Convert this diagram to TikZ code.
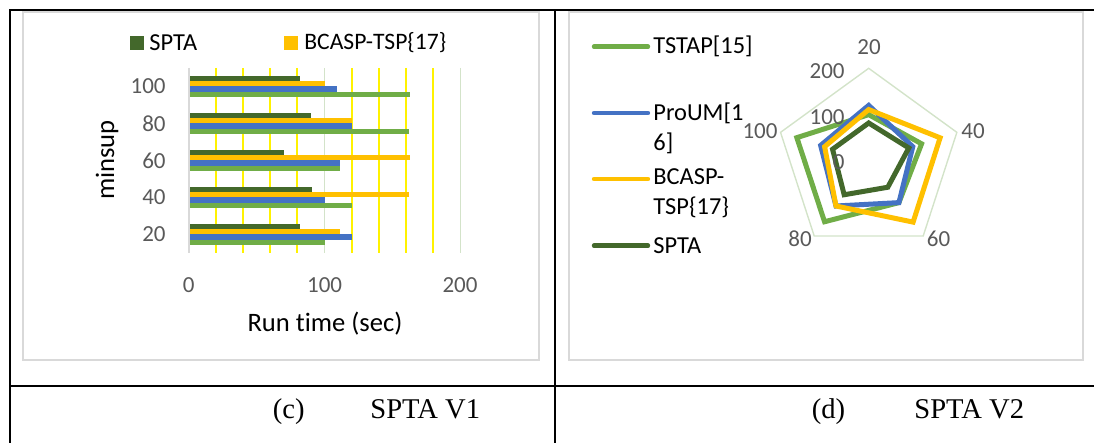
\documentclass[tikz,border=0pt]{standalone}
\usepackage{fontspec}
\setmainfont{Liberation Serif}
\newfontfamily\chartfont[Ligatures=NoCommon]{Carlito}
\definecolor{txtgray}{HTML}{595959}
\definecolor{framegray}{HTML}{D9D9D9}
\definecolor{gridgreen}{HTML}{D3E3C9}
\definecolor{cspta}{HTML}{43682B}
\definecolor{cbcasp}{HTML}{FFC000}
\definecolor{cproum}{HTML}{4472C4}
\definecolor{ctstap}{HTML}{70AD47}
\begin{document}
\begin{tikzpicture}[
  x=0.5pt, y=-0.5pt,
  font=\chartfont\fontsize{11.5}{15}\selectfont\color{txtgray},
  titulo/.style={font=\chartfont\fontsize{13.3}{15}\selectfont},
  leyenda/.style={font=\chartfont\fontsize{12.2}{15}\selectfont, anchor=west, inner sep=0pt},
  tabla/.style={line width=1pt, black},
  marco/.style={draw=framegray, line width=0.9pt},
  rejilla/.style={yellow, line width=1pt},
  rejgris/.style={gridgreen, line width=0.8pt},
  leyline/.style={line width=2.2pt, line cap=round},
  radar/.style={line width=2.5pt, line join=miter},
  caption/.style={font=\fontsize{14.3}{16}\selectfont, anchor=base west, inner sep=0pt}
]
\useasboundingbox (0,0) rectangle (1094,443);

% --- Tabla ---
\draw[tabla] (1094,10) -- (10,10) -- (10,443);
\draw[tabla] (555,10) -- (555,443);
\draw[tabla] (10,386) -- (1094,386);
\node[caption] (capc) at (272.5,418.5) {(c)};
\node[caption] (capcv) at (370,418.5) {SPTA V1};
\node[caption] (capd) at (811.5,418.5) {(d)};
\node[caption] (capdv) at (914,418.5) {SPTA V2};

% --- Grafico (c): barras ---
\draw[marco] (23,12) rectangle (539,360);
\fill[cspta] (130,36) rectangle (144,50);
\node[leyenda] (leyspta) at (149,43) {SPTA};
\fill[cbcasp] (284,36) rectangle (298,50);
\node[leyenda, font=\chartfont\fontsize{11.8}{15}\selectfont] (leybcasp) at (304,43) {BCASP-TSP\{17\}};

\foreach \g in {1,2,3,4,6,7,8,9}
  \draw[rejilla] (188.6+27.2*\g,68) -- (188.6+27.2*\g,253);
\foreach \g in {5,10}
  \draw[rejgris] (188.6+27.2*\g,68) -- (188.6+27.2*\g,253);

\foreach \cat/\k/\a/\b/\c/\d in {100/0/82/100/109/163, 80/1/90/120/120/162,
    60/2/70/163/111/111, 40/3/91/162/100/120, 20/4/82/111/120/100}{
  \pgfmathsetmacro{\yc}{86.5+37*\k}
  \fill[cspta]  (188.6,\yc-10.2) rectangle (188.6+1.36*\a,\yc-5.1);
  \fill[cbcasp] (188.6,\yc-5.1)  rectangle (188.6+1.36*\b,\yc);
  \fill[cproum] (188.6,\yc)      rectangle (188.6+1.36*\c,\yc+5.1);
  \fill[ctstap] (188.6,\yc+5.1)  rectangle (188.6+1.36*\d,\yc+10.2);
  \node[anchor=east, inner sep=0pt] (cat\cat) at (166,\yc) {\cat};
}
\draw[framegray, line width=1pt] (188.6,68) -- (188.6,253);

\node (ejex0) at (188.6,285) {0};
\node (ejex100) at (324.6,285) {100};
\node (ejex200) at (460,285) {200};
\node[titulo] (ejextit) at (325,324) {Run time (sec)};
\node[titulo, rotate=90] (ejeytit) at (107,160) {minsup};

% --- Grafico (d): radar ---
\draw[marco] (569,12) rectangle (1083,360);
\foreach \nom/\col/\yy in {TSTAP[15]/ctstap/46.7, SPTA/cspta/245.7}{
  \draw[leyline, \col] (594,\yy) -- (648,\yy);
  \node[leyenda] (ley\col) at (653,\yy) {\nom};
}
\draw[leyline, cproum] (594,113) -- (648,113);
\node[leyenda, align=left] (leyproum) at (653,128) {ProUM[1\\6]};
\draw[leyline, cbcasp] (594,179) -- (648,179);
\node[leyenda, align=left] (leybcasp2) at (653,193.5) {BCASP-\\TSP\{17\}};

\begin{scope}[shift={(868.7,161)}, yscale=-1]
  \draw[gridgreen, line width=0.7pt]
    (90:92.7) -- (18:92.7) -- (-54:92.7) -- (-126:92.7) -- (-198:92.7) -- cycle;
  % valores: 20, 40, 60, 80, 100
  \foreach \col/\a/\b/\c/\d/\e in {ctstap/100/120/111/162/163,
      cproum/120/100/111/120/109, cbcasp/111/162/163/120/100, cspta/82/91/70/90/82}
    \draw[radar, \col] (90:0.4635*\a) -- (18:0.4635*\b) -- (-54:0.4635*\c)
      -- (-126:0.4635*\d) -- (-198:0.4635*\e) -- cycle;
\end{scope}
\node (rad20) at (869,47.5) {20};
\node (rad40) at (973,131) {40};
\node (rad60) at (938.5,239) {60};
\node (rad80) at (800,239) {80};
\node (rad100) at (760,131) {100};
\node[anchor=east, inner sep=0pt] (esc200) at (845,70.7) {200};
\node[anchor=east, inner sep=0pt] (esc100) at (845,116.7) {100};
\node[anchor=east, inner sep=0pt] (esc0) at (845,161.7) {0};

\end{tikzpicture}
\end{document}
